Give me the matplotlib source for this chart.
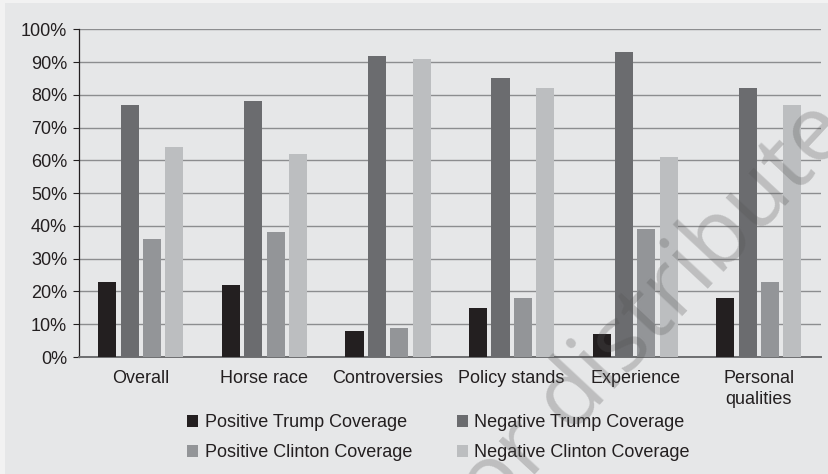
import numpy as np
import matplotlib.pyplot as plt
from matplotlib.patches import Rectangle, Patch

plt.rcParams['font.family'] = ['Liberation Sans', 'DejaVu Sans']

# Share of coverage by topic (%)
categories = ['Overall', 'Horse race', 'Controversies', 'Policy stands',
              'Experience', 'Personal\nqualities']
pos_trump = [23, 22, 8, 15, 7, 18]
neg_trump = [77, 78, 92, 85, 93, 82]
pos_clinton = [36, 38, 9, 18, 39, 23]
neg_clinton = [64, 62, 91, 82, 61, 77]

series = [
    ('Positive Trump Coverage', pos_trump, '#231f20'),
    ('Negative Trump Coverage', neg_trump, '#6b6c6f'),
    ('Positive Clinton Coverage', pos_clinton, '#939598'),
    ('Negative Clinton Coverage', neg_clinton, '#bcbec0'),
]

bg = '#e6e7e8'
txt = '#231f20'

fig = plt.figure(figsize=(8.29, 4.74), dpi=100, facecolor='#f2f2f2')
fig.patches.append(Rectangle((5 / 829, 0), 1, 1 - 3 / 474, transform=fig.transFigure,
                             facecolor=bg, edgecolor='none', zorder=-10))

ax = fig.add_axes([0.0953, 0.2468, 0.8947, 0.6914])
ax.set_facecolor(bg)

x = np.arange(len(categories))
slot = 0.181
width = 0.146
for i, (name, vals, col) in enumerate(series):
    ax.bar(x + (i - 1.5) * slot, vals, width, color=col, label=name, zorder=3)

ax.set_xlim(-0.5, len(categories) - 0.5)
ax.set_ylim(0, 100)
ax.set_yticks(np.arange(0, 101, 10))
ax.set_yticklabels([f'{v}%' for v in range(0, 101, 10)])
ax.set_xticks(x)
ax.set_xticklabels(categories, linespacing=1.35)
ax.tick_params(axis='y', length=4.5, width=0.8, color=txt, pad=4, labelsize=13, labelcolor=txt)
ax.tick_params(axis='x', length=0, pad=9, labelsize=13, labelcolor=txt)

ax.yaxis.grid(True, color='#8c8d8f', linewidth=1.0)
ax.set_axisbelow(True)
for s in ['top', 'right']:
    ax.spines[s].set_visible(False)
ax.spines['left'].set_color(txt)
ax.spines['left'].set_linewidth(0.9)
ax.spines['bottom'].set_color('#6d6e70')
ax.spines['bottom'].set_linewidth(1.4)

# legend: two rows, filled column-wise
handles = [Patch(facecolor=c, edgecolor='none') for _, _, c in series]
labels = [n for n, _, _ in series]
order = [0, 2, 1, 3]
fig.legend([handles[i] for i in order], [labels[i] for i in order],
           ncol=2, loc='center', bbox_to_anchor=(0.529, 0.076), frameon=False,
           fontsize=13, labelcolor=txt, handlelength=0.6, handleheight=0.6,
           handletextpad=0.35, columnspacing=2.5, labelspacing=0.72)

# faint diagonal watermark
fig.text(0.790, 0.345, 'or distribute', rotation=47, rotation_mode='anchor',
         ha='center', va='center', fontsize=66,
         family=['Open Sans', 'DejaVu Sans'], color='#555555', alpha=0.28, zorder=20)

fig.savefig('out.png', dpi=100, facecolor=fig.get_facecolor())
